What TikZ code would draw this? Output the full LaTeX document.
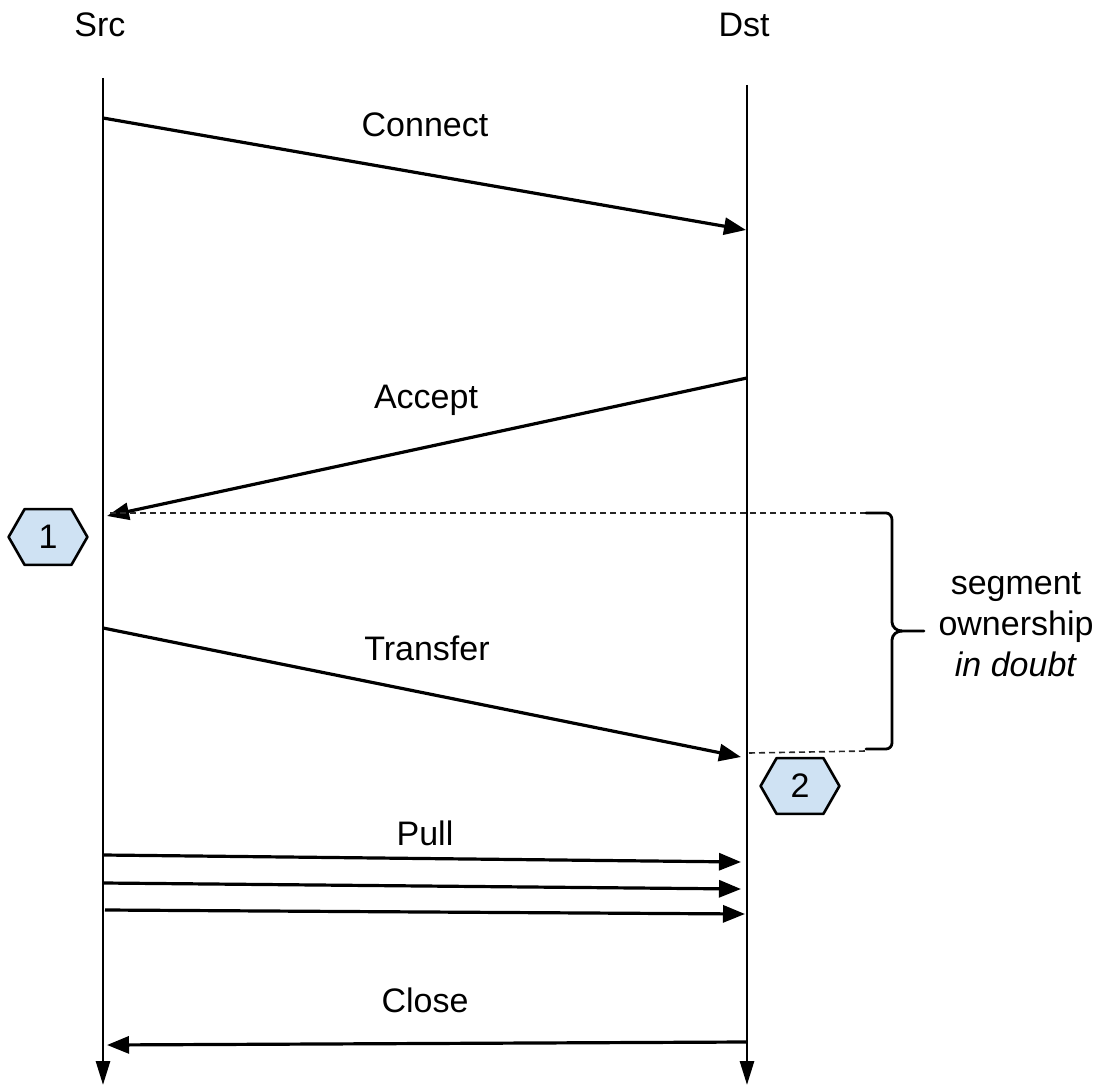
\documentclass[tikz,border=0pt]{standalone}
\usepackage{fontspec}
\setmainfont{Liberation Sans}
\usetikzlibrary{arrows.meta,calc,backgrounds}

\tikzset{
  lifeline/.style={line width=1.4pt, -{Triangle[length=12pt,width=7pt]}},
  msg/.style={line width=1.6pt, -{Triangle[length=11pt,width=8.5pt]}},
  lbl/.style={font=\fontsize{17}{20}\selectfont, anchor=base, inner sep=0pt},
  guide/.style={line width=0.8pt, draw=black!85, dash pattern=on 3pt off 2pt},
  bracket/.style={line width=1.4pt, line cap=round, line join=round},
  marker/.style={font=\fontsize{17}{20}\selectfont, minimum width=39pt, minimum height=27.5pt, inner sep=0pt},
  hexfill/.style={draw=black, line width=1.3pt, line join=round},
}
\definecolor{hexblue}{HTML}{CFE2F3}

\begin{document}
\begin{tikzpicture}[x=0.5pt,y=-0.5pt]
  \useasboundingbox (0,0) rectangle (1099,1086);

  % participants
  \node[lbl] (src) at (100,37) {Src};
  \node[lbl] (dst) at (744,37) {Dst};

  % lifelines
  \coordinate (srcTop) at (103,78);
  \coordinate (srcBot) at (103,1085);
  \coordinate (dstTop) at (747,85);
  \coordinate (dstBot) at (747,1085);
  \draw[lifeline] (srcTop) -- (srcBot);
  \draw[lifeline] (dstTop) -- (dstBot);

  % message end points
  \coordinate (c1) at (103,118);  \coordinate (c2) at (746,230);
  \coordinate (a1) at (747,378);  \coordinate (a2) at (107,516);
  \coordinate (t1) at (103,628);  \coordinate (t2) at (741,757);
  \coordinate (p1) at (103,855);  \coordinate (p2) at (741,862);
  \coordinate (p3) at (103,883);  \coordinate (p4) at (741,889);
  \coordinate (p5) at (105,910);  \coordinate (p6) at (745,914);
  \coordinate (x1) at (747,1042); \coordinate (x2) at (107,1045);

  % messages
  \draw[msg] (c1) -- (c2);
  \node[lbl] (lconnect) at (425,137) {Connect};
  \draw[msg] (a1) -- (a2);
  \node[lbl] (laccept) at (426,408) {Accept};
  \draw[msg] (t1) -- (t2);
  \node[lbl] (ltransfer) at (427,660) {Transfer};
  \draw[msg] (p1) -- (p2);
  \draw[msg] (p3) -- (p4);
  \draw[msg] (p5) -- (p6);
  \node[lbl] (lpull) at (425,845) {Pull};
  \draw[msg] (x1) -- (x2);
  \node[lbl] (lclose) at (425,1012) {Close};

  % in-doubt interval
  \coordinate (g1) at (110,513);  \coordinate (g2) at (866,513);
  \coordinate (g3) at (749,753);  \coordinate (g4) at (866,751);
  \draw[guide] (g1) -- (g2);
  \draw[guide] (g3) -- (g4);
  \draw[bracket] (g2) -- (886,513) to[out=0,in=90] (892,520) -- (892,622)
        to[out=-90,in=180] (902,631) -- (924,631);
  \draw[bracket] (902,631) to[out=180,in=90] (892,640) -- (892,743)
        to[out=-90,in=0] (886,749) -- (866,749);
  \node[font=\fontsize{17}{20.5}\selectfont, align=center] (doubt) at (1016,625)
        {segment\\ownership\\\textit{in doubt}};

  % numbered markers
  \node[marker] (h1) at (48,537) {};
  \node[marker] (h2) at (800,786) {};
  \foreach \h in {h1,h2}{
    \draw[hexfill, fill=hexblue] (\h.west) -- ($(\h.north west)+(16,0)$) -- ($(\h.north east)+(-16,0)$)
      -- (\h.east) -- ($(\h.south east)+(-16,0)$) -- ($(\h.south west)+(16,0)$) -- cycle;
  }
  \node[marker] at (h1) {1};
  \node[marker] at (h2) {2};
\end{tikzpicture}
\end{document}
